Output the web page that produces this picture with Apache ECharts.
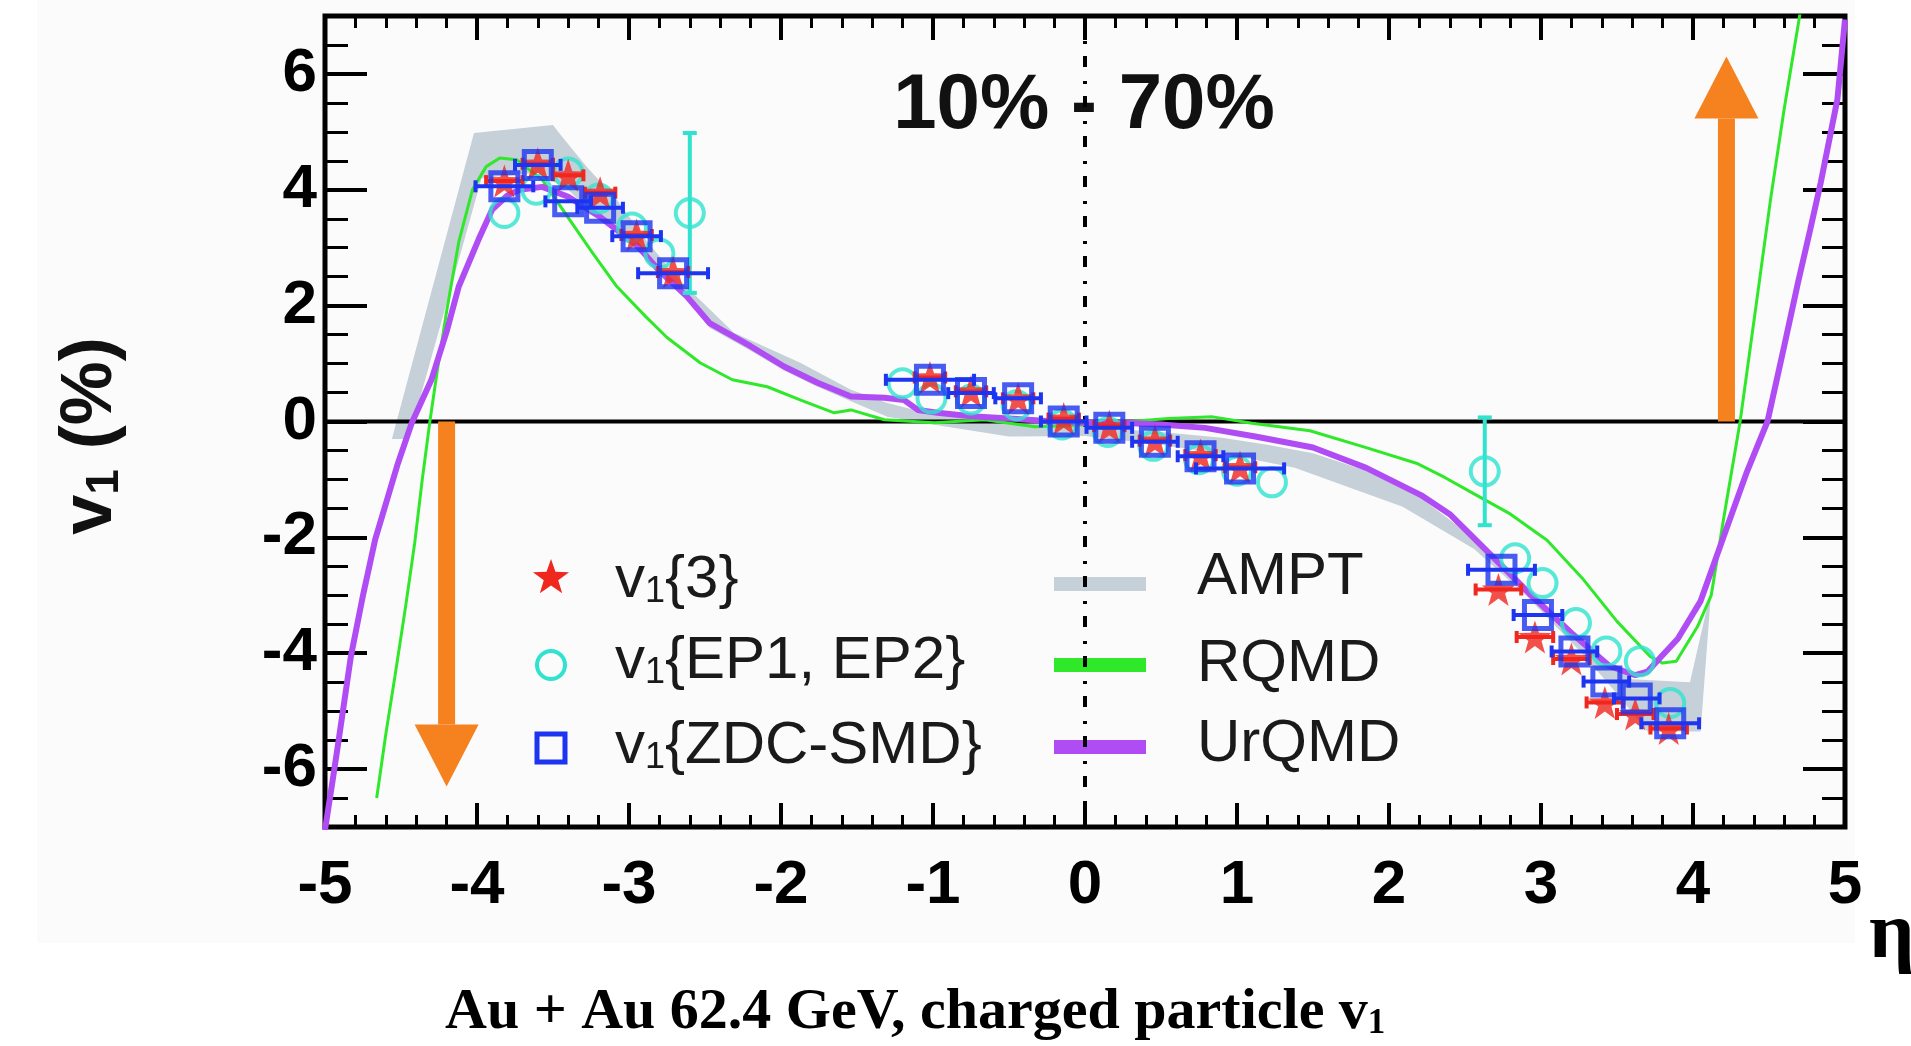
<!DOCTYPE html>
<html>
<head>
<meta charset="utf-8">
<title>v1 vs eta, Au+Au 62.4 GeV</title>
<script src="https://cdn.jsdelivr.net/npm/echarts@6/dist/echarts.min.js"></script>
<style>
html, body { margin: 0; padding: 0; background: #fff; }
#chart { width: 1911px; height: 1046px; }
</style>
</head>
<body>
<div id="chart"></div>
<script>
// ---- values ----
var yMajorTicks = [-6, -4, -2, 0, 2, 4, 6];

// v1{ZDC-SMD} (squares): eta, v1, half width of horizontal bar
var zdcEta = [-3.82, -3.60, -3.40, -3.19, -2.95, -2.71, -1.02, -0.75, -0.44, -0.14, 0.16, 0.46, 0.76, 1.02, 2.74, 2.98, 3.22, 3.43, 3.63, 3.85];
var zdcV1 = [4.06, 4.43, 3.80, 3.69, 3.20, 2.56, 0.72, 0.49, 0.40, 0.00, -0.11, -0.35, -0.60, -0.81, -2.56, -3.34, -3.97, -4.49, -4.78, -5.21];
var zdcEtaErr = [0.19, 0.15, 0.15, 0.15, 0.16, 0.23, 0.29, 0.15, 0.15, 0.15, 0.15, 0.15, 0.15, 0.29, 0.22, 0.16, 0.15, 0.15, 0.15, 0.19];

// v1{3} (stars)
var v13Eta = [-3.82, -3.60, -3.40, -3.19, -2.95, -2.71, -1.02, -0.75, -0.44, -0.14, 0.16, 0.46, 0.76, 1.02, 2.72, 2.96, 3.20, 3.42, 3.62, 3.84];
var v13V1 = [4.15, 4.45, 4.25, 3.95, 3.22, 2.58, 0.76, 0.52, 0.40, 0.05, -0.08, -0.33, -0.58, -0.79, -2.90, -3.72, -4.10, -4.85, -5.05, -5.30];
var v13EtaErr = [0.12, 0.1, 0.1, 0.1, 0.1, 0.1, 0.1, 0.1, 0.1, 0.1, 0.1, 0.1, 0.1, 0.1, 0.15, 0.12, 0.12, 0.12, 0.12, 0.12];

// v1{EP1, EP2} (circles): eta, v1, vertical error (0 = hidden by the marker)
var epEta = [-3.82, -3.61, -3.40, -3.20, -2.98, -2.80, -2.60, -1.20, -1.01, -0.75, -0.45, -0.15, 0.15, 0.45, 0.75, 1.00, 1.23, 2.63, 2.83, 3.01, 3.23, 3.43, 3.65, 3.85];
var epV1 = [3.60, 4.00, 4.30, 3.85, 3.35, 2.90, 3.60, 0.66, 0.40, 0.38, 0.28, -0.05, -0.18, -0.42, -0.65, -0.85, -1.05, -0.86, -2.36, -2.79, -3.48, -3.97, -4.14, -4.86];
var epErr = [0, 0, 0, 0, 0, 0, 1.38, 0, 0, 0, 0, 0, 0, 0, 0, 0, 0, 0.93, 0, 0, 0, 0, 0, 0];

// RQMD model curve
var rqmdCurve = [[-4.66, -6.5], [-4.60, -5.4], [-4.54, -4.4], [-4.47, -3.2], [-4.41, -2.1], [-4.36, -1.0], [-4.31, 0.0], [-4.26, 0.9],
  [-4.20, 1.9], [-4.12, 3.1], [-4.03, 4.0], [-3.94, 4.40], [-3.85, 4.55], [-3.74, 4.52], [-3.57, 4.17], [-3.39, 3.48], [-3.24, 2.91],
  [-3.08, 2.33], [-2.89, 1.81], [-2.75, 1.45], [-2.53, 1.01], [-2.32, 0.72], [-2.09, 0.60], [-1.87, 0.37], [-1.65, 0.15], [-1.54, 0.20],
  [-1.32, 0.03], [-0.99, -0.02], [-0.66, 0.03], [-0.33, -0.09], [0.00, -0.06], [0.30, 0.00], [0.55, 0.05], [0.84, 0.08], [1.10, -0.03],
  [1.48, -0.16], [1.85, -0.45], [2.18, -0.72], [2.37, -0.97], [2.56, -1.25], [2.80, -1.60], [3.04, -2.05], [3.27, -2.70], [3.50, -3.45],
  [3.72, -4.06], [3.80, -4.17], [3.89, -4.14], [4.03, -3.54], [4.12, -3.00], [4.20, -1.70], [4.31, 0.0], [4.42, 2.1], [4.51, 3.83],
  [4.60, 5.4], [4.69, 6.82], [4.72, 7.3]];

// UrQMD model curve
var urqmdCurve = [[-5.00, -7.05], [-4.95, -6.2], [-4.91, -5.5], [-4.83, -4.06], [-4.75, -3.0], [-4.67, -2.04], [-4.52, -0.72], [-4.43, -0.03],
  [-4.30, 0.72], [-4.20, 1.55], [-4.12, 2.33], [-3.99, 3.14], [-3.90, 3.66], [-3.80, 3.90], [-3.72, 4.00], [-3.57, 4.05], [-3.40, 3.88],
  [-3.20, 3.55], [-2.95, 3.05], [-2.80, 2.60], [-2.62, 2.16], [-2.47, 1.70], [-2.20, 1.30], [-1.98, 0.95], [-1.76, 0.67], [-1.54, 0.43],
  [-1.32, 0.41], [-1.19, 0.37], [-1.10, 0.20], [-0.97, 0.15], [-0.75, 0.09], [-0.50, 0.05], [-0.20, 0.00], [0.00, -0.02], [0.31, -0.03],
  [0.50, -0.05], [0.79, -0.11], [1.12, -0.26], [1.50, -0.45], [1.85, -0.80], [2.21, -1.27], [2.40, -1.60], [2.65, -2.25], [2.92, -2.96],
  [3.20, -3.65], [3.45, -4.22], [3.62, -4.38], [3.70, -4.32], [3.79, -4.06], [3.90, -3.75], [4.05, -3.10], [4.20, -2.00], [4.35, -0.90],
  [4.49, 0.00], [4.60, 1.30], [4.69, 2.39], [4.77, 3.30], [4.84, 4.12], [4.95, 5.56], [5.00, 6.94]];

// AMPT band: upper and lower edges
var amptUpper = [[-4.56, -0.3], [-4.02, 4.98], [-3.50, 5.12], [-3.46, 4.98], [-3.28, 4.40], [-3.08, 3.83], [-2.89, 3.14], [-2.71, 2.56],
  [-2.58, 2.22], [-2.31, 1.53], [-1.87, 1.01], [-1.54, 0.55], [-1.30, 0.32], [-1.00, 0.12], [-0.50, 0.00], [0.00, -0.10], [0.50, -0.18],
  [0.90, -0.28], [1.20, -0.40], [1.50, -0.55], [1.85, -0.85], [2.21, -1.32], [2.44, -1.78], [2.66, -2.32], [2.92, -3.02], [3.27, -3.85],
  [3.60, -4.45], [3.98, -4.50], [4.12, -2.90]];
var amptLower = [[-4.45, -0.3], [-3.97, 4.20], [-3.60, 4.30], [-3.40, 4.00], [-3.20, 3.50], [-2.95, 2.95], [-2.70, 2.40], [-2.47, 1.62],
  [-2.20, 1.22], [-1.98, 0.88], [-1.76, 0.60], [-1.54, 0.35], [-1.30, 0.08], [-1.00, -0.05], [-0.50, -0.26], [0.00, -0.25], [0.50, -0.40],
  [1.00, -0.60], [1.38, -0.80], [2.09, -1.47], [2.56, -2.20], [2.90, -3.00], [3.27, -4.00], [3.50, -4.70], [3.70, -5.35], [4.05, -5.35],
  [4.12, -2.90]];

// orange arrows: eta position and tip value
var arrowEta = [-4.20, 4.22];
var arrowTip = [-6.3, 6.3];

// ---- styling ----
var cOrange = '#f6821f';
var cGreen = '#30e82a';
var cPurple = '#b04cf4';
var cGrey = '#c5d0d8';
var cCyan = '#2fe3cf';
var cBlue = '#1d35f0';
var cRed = '#f0271f';
var sans = '"Liberation Sans", Arial, Helvetica, sans-serif';
var serif = '"Liberation Serif", "Times New Roman", serif';
var starPath = 'path://M0,-10 L2.35,-3.24 L9.51,-3.09 L3.8,1.24 L5.88,8.09 L0,4 L-5.88,8.09 L-3.8,1.24 L-9.51,-3.09 L-2.35,-3.24 Z';

function hBarRender(color) {
  return function(params, api) {
    var x = api.value(0), y = api.value(1), e = api.value(2);
    var a = api.coord([x - e, y]);
    var b = api.coord([x + e, y]);
    var st = { stroke: color, lineWidth: 4 };
    return { type: 'group', children: [
      { type: 'line', shape: { x1: a[0], y1: a[1], x2: b[0], y2: b[1] }, style: st },
      { type: 'line', shape: { x1: a[0], y1: a[1] - 6, x2: a[0], y2: a[1] + 6 }, style: st },
      { type: 'line', shape: { x1: b[0], y1: b[1] - 6, x2: b[0], y2: b[1] + 6 }, style: st }
    ]};
  };
}

function vBarRender(params, api) {
  var x = api.value(0), y = api.value(1), e = api.value(2);
  if (!e) return null;
  var a = api.coord([x, y - e]);
  var b = api.coord([x, y + e]);
  var st = { stroke: cCyan, lineWidth: 4 };
  return { type: 'group', children: [
    { type: 'line', shape: { x1: a[0], y1: a[1], x2: b[0], y2: b[1] }, style: st },
    { type: 'line', shape: { x1: a[0] - 7, y1: a[1], x2: a[0] + 7, y2: a[1] }, style: st },
    { type: 'line', shape: { x1: b[0] - 7, y1: b[1], x2: b[0] + 7, y2: b[1] }, style: st }
  ]};
}

function zip3(a, b, c) {
  return a.map(function(v, i) { return [v, b[i], c[i]]; });
}

function majorAxisY(pos) {
  return {
    type: 'value', min: -7, max: 7, position: pos,
    axisLine: { show: false, onZero: false },
    axisTick: { show: true, inside: true, length: 42, customValues: yMajorTicks, lineStyle: { color: '#000', width: 4 } },
    axisLabel: { show: pos === 'left', customValues: yMajorTicks, margin: 8, color: '#000', fontSize: 62, fontWeight: 'bold', fontFamily: sans },
    splitLine: { show: false }
  };
}
function minorAxisY(pos) {
  return {
    type: 'value', min: -7, max: 7, interval: 0.5, position: pos,
    axisLine: { show: false, onZero: false },
    axisTick: { show: true, inside: true, length: 23, lineStyle: { color: '#000', width: 3 } },
    axisLabel: { show: false },
    splitLine: { show: false }
  };
}
function axisX(pos) {
  return {
    type: 'value', min: -5, max: 5, interval: 1, position: pos,
    axisLine: { show: false, onZero: false },
    axisTick: { show: true, inside: true, length: 24, lineStyle: { color: '#000', width: 4 } },
    minorTick: { show: true, splitNumber: 5, length: 12, lineStyle: { color: '#000', width: 3 } },
    axisLabel: { show: pos === 'bottom', margin: 28, color: '#000', fontSize: 62, fontWeight: 'bold', fontFamily: sans },
    splitLine: { show: false }, minorSplitLine: { show: false }
  };
}

var legendText = { fontSize: 60, fontFamily: sans, fill: '#1a1a1a', verticalAlign: 'middle', align: 'left',
  rich: { s: { fontSize: 36, fontFamily: sans, fill: '#1a1a1a', padding: [24, 0, 0, 0] } } };
function legendLabel(x, y, txt) {
  return { type: 'text', x: x, y: y, style: Object.assign({ text: txt }, legendText) };
}
function starPoints(cx, cy, r) {
  var raw = [[0, -10], [2.35, -3.24], [9.51, -3.09], [3.8, 1.24], [5.88, 8.09], [0, 4], [-5.88, 8.09], [-3.8, 1.24], [-9.51, -3.09], [-2.35, -3.24]];
  return raw.map(function(p) { return [cx + p[0] * r / 10, cy + p[1] * r / 10]; });
}

var option = {
  backgroundColor: '#fff',
  animation: false,
  grid: { left: 325, right: 66, top: 16, bottom: 219, show: true, borderColor: '#000', borderWidth: 5,
    backgroundColor: 'transparent', outerBoundsMode: 'none', containLabel: false },
  xAxis: [axisX('bottom'), axisX('top')],
  yAxis: [majorAxisY('left'), minorAxisY('left'), majorAxisY('right'), minorAxisY('right')],
  graphic: [
    { type: 'rect', z: -10, shape: { x: 37, y: 0, width: 1818, height: 943 }, style: { fill: '#fbfbfb' } },
    { type: 'text', x: 1084, y: 106, style: { text: '10% - 70%', fontSize: 78, fontWeight: 'bold', fontFamily: sans, fill: '#111', align: 'center', verticalAlign: 'middle' } },
    { type: 'text', x: 91, y: 436, rotation: Math.PI / 2,
      style: { text: 'v{s|1} (%)', fontSize: 72, fontWeight: 'bold', fontFamily: sans, fill: '#111', align: 'center', verticalAlign: 'middle',
        rich: { s: { fontSize: 46, fontWeight: 'bold', fontFamily: sans, fill: '#111', padding: [28, 0, 0, 0] } } } },
    { type: 'text', x: 1869, y: 936, style: { text: '\u03b7', fontSize: 80, fontWeight: 'bold', fontFamily: serif, fill: '#000', align: 'left', verticalAlign: 'middle' } },
    { type: 'text', x: 445, y: 1013,
      style: { text: 'Au + Au 62.4 GeV, charged particle v{s|1}', fontSize: 58, fontWeight: 'bold', fontFamily: serif, fill: '#000', align: 'left', verticalAlign: 'middle',
        rich: { s: { fontSize: 35, fontWeight: 'bold', fontFamily: serif, fill: '#000', padding: [21, 0, 0, 0] } } } },
    // legend, left column
    { type: 'polygon', shape: { points: starPoints(551, 578, 19) }, style: { fill: cRed } },
    { type: 'circle', shape: { cx: 551, cy: 665, r: 14 }, style: { fill: 'none', stroke: cCyan, lineWidth: 4 } },
    { type: 'rect', shape: { x: 537, y: 734, width: 28, height: 28 }, style: { fill: 'none', stroke: cBlue, lineWidth: 5 } },
    legendLabel(615, 580, 'v{s|1}{3}'),
    legendLabel(615, 661, 'v{s|1}{EP1, EP2}'),
    legendLabel(615, 746, 'v{s|1}{ZDC-SMD}'),
    // legend, right column
    { type: 'rect', shape: { x: 1054, y: 577, width: 92, height: 14 }, style: { fill: cGrey } },
    { type: 'rect', shape: { x: 1054, y: 658, width: 92, height: 14 }, style: { fill: cGreen } },
    { type: 'rect', shape: { x: 1054, y: 740, width: 92, height: 14 }, style: { fill: cPurple } },
    legendLabel(1197, 577, 'AMPT'),
    legendLabel(1197, 664, 'RQMD'),
    legendLabel(1197, 744, 'UrQMD')
  ],
  series: [
    {
      name: 'AMPT', type: 'custom', z: 1, clip: true, silent: true,
      data: [[0, 0]],
      renderItem: function(params, api) {
        var pts = [];
        for (var i = 0; i < amptUpper.length; i++) pts.push(api.coord(amptUpper[i]));
        for (var j = amptLower.length - 1; j >= 0; j--) pts.push(api.coord(amptLower[j]));
        return { type: 'polygon', shape: { points: pts }, style: { fill: cGrey } };
      }
    },
    {
      name: 'zero', type: 'line', z: 2, silent: true, symbol: 'none',
      data: [[-5, 0], [5, 0]], lineStyle: { color: '#000', width: 4 }
    },
    {
      name: 'eta0', type: 'line', z: 2, silent: true, symbol: 'none',
      data: [[0, -7], [0, 7]], lineStyle: { color: '#000', width: 4, type: [11, 12, 3, 14] }
    },
    {
      name: 'RQMD', type: 'line', z: 3, symbol: 'none', data: rqmdCurve,
      lineStyle: { color: cGreen, width: 3 }
    },
    {
      name: 'UrQMD', type: 'line', z: 3, symbol: 'none', data: urqmdCurve,
      lineStyle: { color: cPurple, width: 6 }
    },
    {
      name: 'arrows', type: 'custom', z: 4, silent: true,
      data: arrowEta.map(function(x, i) { return [x, arrowTip[i]]; }),
      renderItem: function(params, api) {
        var x = api.value(0), tip = api.value(1);
        var base = api.coord([x, 0]);
        var end = api.coord([x, tip]);
        var dir = end[1] > base[1] ? 1 : -1;
        var hb = end[1] - dir * 62;
        return { type: 'group', children: [
          { type: 'rect', shape: { x: base[0] - 8.5, y: Math.min(base[1], hb), width: 17, height: Math.abs(hb - base[1]) }, style: { fill: cOrange } },
          { type: 'polygon', shape: { points: [[base[0] - 32, hb], [base[0] + 32, hb], [base[0], end[1]]] }, style: { fill: cOrange } }
        ]};
      }
    },
    {
      name: 'EP err', type: 'custom', z: 5, silent: true,
      data: zip3(epEta, epV1, epErr), renderItem: vBarRender
    },
    {
      name: 'v1{EP1, EP2}', type: 'scatter', z: 5,
      data: epEta.map(function(x, i) { return [x, epV1[i]]; }),
      symbol: 'circle', symbolSize: 28,
      itemStyle: { color: 'rgba(255,255,255,0)', borderColor: cCyan, borderWidth: 4 }
    },
    {
      name: 'v13 err', type: 'custom', z: 6, silent: true,
      data: zip3(v13Eta, v13V1, v13EtaErr), renderItem: hBarRender(cRed)
    },
    {
      name: 'v1{3}', type: 'scatter', z: 6,
      data: v13Eta.map(function(x, i) { return [x, v13V1[i]]; }),
      symbol: starPath, symbolSize: 33,
      itemStyle: { color: cRed }
    },
    {
      name: 'zdc err', type: 'custom', z: 7, silent: true,
      data: zip3(zdcEta, zdcV1, zdcEtaErr), renderItem: hBarRender(cBlue)
    },
    {
      name: 'v1{ZDC-SMD}', type: 'scatter', z: 7,
      data: zdcEta.map(function(x, i) { return [x, zdcV1[i]]; }),
      symbol: 'rect', symbolSize: 27,
      itemStyle: { color: 'rgba(255,255,255,0)', borderColor: cBlue, borderWidth: 5 }
    }
  ]
};

var myChart = echarts.init(document.getElementById('chart'));
myChart.setOption(option);
</script>
</body>
</html>
